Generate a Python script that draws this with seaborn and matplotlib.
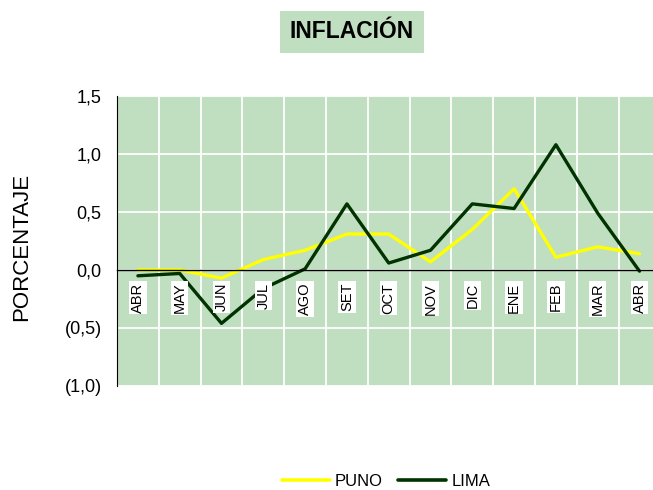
import pandas as pd
import numpy as np
import matplotlib
matplotlib.use('Agg')
import matplotlib.pyplot as plt
import seaborn as sns
from matplotlib.lines import Line2D

meses = ['ABR', 'MAY', 'JUN', 'JUL', 'AGO', 'SET', 'OCT', 'NOV', 'DIC', 'ENE', 'FEB', 'MAR', 'ABR']
puno = [0.00, 0.00, -0.07, 0.09, 0.17, 0.31, 0.31, 0.07, 0.35, 0.70, 0.11, 0.20, 0.14]
lima = [-0.05, -0.03, -0.46, -0.16, 0.01, 0.57, 0.06, 0.17, 0.57, 0.53, 1.08, 0.49, -0.01]
yticks = [1.5, 1.0, 0.5, 0.0, -0.5, -1.0]
ytick_labels = ['1,5', '1,0', '0,5', '0,0', '(0,5)', '(1,0)']

idx = np.arange(len(meses))
df = pd.DataFrame({
    'pos': np.concatenate([idx, idx]),
    'valor': puno + lima,
    'serie': ['PUNO'] * len(puno) + ['LIMA'] * len(lima),
})

sns.set_style('white')
plt.rcParams['font.family'] = ['Liberation Sans', 'DejaVu Sans']
plt.rcParams['text.color'] = 'black'
plt.rcParams['axes.labelcolor'] = 'black'
plt.rcParams['xtick.color'] = 'black'
plt.rcParams['ytick.color'] = 'black'

verde = '#C0DFC0'
colores = {'PUNO': '#FFFF00', 'LIMA': '#003300'}

fig = plt.figure(figsize=(6.53, 4.90), dpi=100)
ax = fig.add_axes([117 / 653, 104 / 490, 543.4 / 653, 290 / 490])
ax.set_facecolor(verde)

# white grid drawn by hand so the lines sit on top of it
for b in np.arange(-0.5, 12.6, 1):
    ax.axvline(b, color='white', lw=1.3, zorder=1)
for t in yticks:
    ax.axhline(t, color='white', lw=1.3, zorder=1)

sns.lineplot(data=df, x='pos', y='valor', hue='serie', palette=colores,
             sort=False, lw=2.4, ax=ax, legend=False, zorder=2)

ax.set_xlim(-0.5, 12.5)
ax.set_ylim(-1.0, 1.5)

ax.spines['top'].set_visible(False)
ax.spines['right'].set_visible(False)
ax.spines['left'].set_color('black')
ax.spines['bottom'].set_position(('data', 0))
ax.spines['bottom'].set_color('black')
ax.spines['bottom'].set_linewidth(1.0)

ax.set_xticks(np.arange(-0.5, 12.6, 1))
ax.set_xticklabels([])
ax.tick_params(axis='x', direction='out', length=4, color='black', width=1)
ax.set_yticks(yticks)
ax.set_yticklabels(ytick_labels, fontsize=13)
ax.tick_params(axis='y', direction='out', length=5, color='black', width=1, pad=6)
ax.set_xlabel('')
ax.set_ylabel('PORCENTAJE', fontsize=16)
ax.yaxis.set_label_coords(-0.156, 0.48)

for i, m in enumerate(meses):
    ax.text(i, -0.11, m, rotation=90, ha='center', va='top', fontsize=10.5,
            zorder=3, bbox=dict(facecolor='white', edgecolor='none', pad=1.2))

fig.text(352 / 653, 1 - 32 / 490, 'INFLACIÓN', ha='center', va='center',
         fontsize=16.5, fontweight='bold',
         bbox=dict(boxstyle='square,pad=0.42', facecolor=verde, edgecolor='none'))

handles = [Line2D([0], [0], color=colores['PUNO'], lw=2.6),
           Line2D([0], [0], color=colores['LIMA'], lw=2.6)]
fig.legend(handles, ['PUNO', 'LIMA'], loc='center', bbox_to_anchor=(386 / 653, 1 - 481 / 490),
           ncol=2, frameon=False, fontsize=12, handlelength=2.9, handletextpad=0.3,
           columnspacing=0.9)

fig.savefig('out.png', dpi=100)
